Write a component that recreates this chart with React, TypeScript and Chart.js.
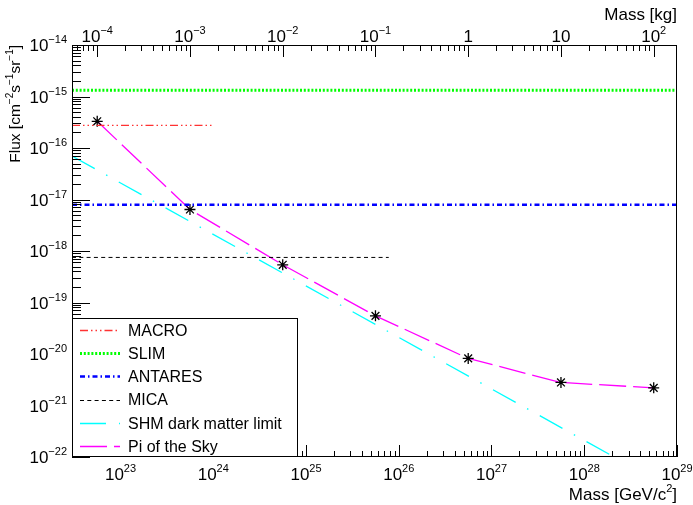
import React, { useEffect, useRef } from "react";
import { Chart, registerables } from "chart.js";

Chart.register(...registerables);

// ---- data ----
const GEV_TO_KG = 1.783e-27;
const X_MIN = 3e22;
const X_MAX = 1e29;
const Y_MIN = 1e-22;
const Y_MAX = 1e-14;

const piMass = [5.61e22, 5.61e23, 5.61e24, 5.61e25, 5.61e26, 5.61e27, 5.61e28];
const piFlux = [3.3e-16, 6.4e-18, 5.4e-19, 5.5e-20, 8.2e-21, 2.8e-21, 2.2e-21];

const shmMass = [3e22, 1e29];
const shmFlux = [7.0e-17, 2.1e-23];

const macroMass = [3e22, 1e24];
const macroFlux = [2.75e-16, 2.75e-16];

const slimMass = [3e22, 1e29];
const slimFlux = [1.32e-15, 1.32e-15];

const antaresMass = [3e22, 1e29];
const antaresFlux = [7.9e-18, 7.9e-18];

const micaMass = [3e22, 7.8e25];
const micaFlux = [7.5e-19, 7.5e-19];

const bottomTickExps = [23, 24, 25, 26, 27, 28, 29];
const leftTickExps = [-22, -21, -20, -19, -18, -17, -16, -15, -14];
const topTickValues = [1e-4, 1e-3, 1e-2, 1e-1, 1, 10, 100];
const topTickLabels: [string, string][] = [
  ["10", "\u22124"],
  ["10", "\u22123"],
  ["10", "\u22122"],
  ["10", "\u22121"],
  ["1", ""],
  ["10", ""],
  ["10", "2"],
];

const legendLabels = ["MACRO", "SLIM", "ANTARES", "MICA", "SHM dark matter limit", "Pi of the Sky"];

const FONT = '"Liberation Sans", Arial, Helvetica, sans-serif';

function pts(xs: number[], ys: number[]) {
  return xs.map((x, i) => ({ x, y: ys[i] }));
}

function drawPow(ctx: CanvasRenderingContext2D, base: string, exp: string, x: number, baseY: number, align: "center" | "right") {
  ctx.font = `17px ${FONT}`;
  const wb = ctx.measureText(base).width;
  ctx.font = `11px ${FONT}`;
  const we = exp ? ctx.measureText(exp).width : 0;
  const total = wb + we;
  const x0 = align === "center" ? x - total / 2 : x - total;
  ctx.textAlign = "left";
  ctx.textBaseline = "alphabetic";
  ctx.font = `17px ${FONT}`;
  ctx.fillText(base, x0, baseY);
  if (exp) {
    ctx.font = `11px ${FONT}`;
    ctx.fillText(exp, x0 + wb, baseY - 8);
  }
}

function decadeValues(min: number, max: number) {
  const out: { v: number; major: boolean }[] = [];
  const e0 = Math.floor(Math.log10(min)) - 1;
  const e1 = Math.ceil(Math.log10(max)) + 1;
  for (let e = e0; e <= e1; e++) {
    for (let k = 1; k <= 9; k++) {
      const v = k * Math.pow(10, e);
      if (v >= min * 0.9999 && v <= max * 1.0001) out.push({ v, major: k === 1 });
    }
  }
  return out;
}

const rootPlugin = {
  id: "rootStyle",
  afterDatasetsDraw(chart: any) {
    const ctx: CanvasRenderingContext2D = chart.ctx;
    const { left, right, top, bottom } = chart.chartArea;
    const xs = chart.scales.x;
    const ys = chart.scales.y;
    const x2 = chart.scales.x2;
    ctx.save();
    ctx.strokeStyle = "#000";
    ctx.fillStyle = "#000";
    ctx.lineWidth = 1;
    ctx.setLineDash([]);
    // frame
    ctx.strokeRect(left + 0.5, top + 0.5, right - left - 1, bottom - top - 1);

    // bottom ticks
    ctx.beginPath();
    for (const t of decadeValues(X_MIN, X_MAX)) {
      const px = Math.round(xs.getPixelForValue(t.v)) + 0.5;
      ctx.moveTo(px, bottom);
      ctx.lineTo(px, bottom - (t.major ? 12 : 6));
    }
    // top ticks (kg)
    for (const t of decadeValues(X_MIN * GEV_TO_KG, X_MAX * GEV_TO_KG)) {
      const px = Math.round(x2.getPixelForValue(t.v)) + 0.5;
      ctx.moveTo(px, top);
      ctx.lineTo(px, top + (t.major ? 12 : 6));
    }
    // left ticks
    for (const t of decadeValues(Y_MIN, Y_MAX)) {
      const py = Math.round(ys.getPixelForValue(t.v)) + 0.5;
      ctx.moveTo(left, py);
      ctx.lineTo(left + (t.major ? 18 : 9), py);
    }
    ctx.stroke();

    // bottom labels
    for (const e of bottomTickExps) {
      const px = xs.getPixelForValue(Math.pow(10, e));
      drawPow(ctx, "10", String(e), px, bottom + 23, "center");
    }
    // top labels
    topTickValues.forEach((v, i) => {
      const px = x2.getPixelForValue(v);
      drawPow(ctx, topTickLabels[i][0], topTickLabels[i][1], px, top - 3, "center");
    });
    // left labels
    for (const e of leftTickExps) {
      const py = ys.getPixelForValue(Math.pow(10, e));
      drawPow(ctx, "10", "\u2212" + Math.abs(e), left - 5, py + 6.3, "right");
    }

    // axis titles
    ctx.font = `17px ${FONT}`;
    ctx.textAlign = "right";
    ctx.textBaseline = "alphabetic";
    ctx.fillText("Mass [kg]", right, 19.5);

    // bottom title with superscript
    ctx.font = `11px ${FONT}`;
    const w2 = ctx.measureText("2").width;
    ctx.font = `17px ${FONT}`;
    const wPre = ctx.measureText("Mass [GeV/c").width;
    const wPost = ctx.measureText("]").width;
    let bx = right - (wPre + w2 + wPost);
    ctx.textAlign = "left";
    ctx.fillText("Mass [GeV/c", bx, 500);
    bx += wPre;
    ctx.font = `11px ${FONT}`;
    ctx.fillText("2", bx, 492);
    bx += w2;
    ctx.font = `17px ${FONT}`;
    ctx.fillText("]", bx, 500);

    // y title rotated
    const segs: [string, boolean][] = [
      ["Flux [cm", false],
      ["\u22122", true],
      ["s", false],
      ["\u22121", true],
      ["sr", false],
      ["\u22121", true],
      ["]", false],
    ];
    const bigF = `15.5px ${FONT}`;
    const supF = `10px ${FONT}`;
    let total = 0;
    const widths = segs.map(([t, sup]) => {
      ctx.font = sup ? supF : bigF;
      const w = ctx.measureText(t).width;
      total += w;
      return w;
    });
    ctx.save();
    ctx.translate(20, top);
    ctx.rotate(-Math.PI / 2);
    let tx = -total;
    segs.forEach(([t, sup], i) => {
      ctx.font = sup ? supF : bigF;
      ctx.fillText(t, tx, sup ? -7 : 0);
      tx += widths[i];
    });
    ctx.restore();

    // legend
    const lx0 = left;
    const ly0 = 318;
    const lx1 = 298;
    const ly1 = bottom;
    ctx.fillStyle = "#fff";
    ctx.fillRect(lx0, ly0, lx1 - lx0, ly1 - ly0);
    ctx.strokeStyle = "#000";
    ctx.lineWidth = 1;
    ctx.setLineDash([]);
    ctx.strokeRect(lx0 + 0.5, ly0 + 0.5, lx1 - lx0 - 1, ly1 - ly0 - 1);
    const ds = chart.data.datasets;
    legendLabels.forEach((lab, i) => {
      const d = ds[i];
      const ry = 330 + i * 23.2;
      ctx.save();
      ctx.strokeStyle = d.borderColor;
      ctx.lineWidth = d.borderWidth;
      ctx.setLineDash(d.borderDash || []);
      ctx.beginPath();
      ctx.moveTo(80, Math.round(ry) + 0.5);
      ctx.lineTo(120, Math.round(ry) + 0.5);
      ctx.stroke();
      ctx.restore();
      ctx.fillStyle = "#000";
      ctx.font = `16px ${FONT}`;
      ctx.textAlign = "left";
      ctx.textBaseline = "alphabetic";
      ctx.fillText(lab, 128, ry + 5.8);
    });
    ctx.restore();
  },
};

export default function App() {
  const ref = useRef<HTMLCanvasElement | null>(null);
  useEffect(() => {
    if (!ref.current) return;
    const line = (label: string, data: any[], color: string, width: number, dash: number[]) => ({
      label,
      data,
      showLine: true,
      borderColor: color,
      backgroundColor: color,
      borderWidth: width,
      borderDash: dash,
      pointRadius: 0,
      pointHoverRadius: 0,
      tension: 0,
      fill: false,
    });
    const chart = new Chart(ref.current, {
      type: "scatter",
      data: {
        datasets: [
          line("MACRO", pts(macroMass, macroFlux), "rgb(255,50,50)", 1.3, [8, 3, 1.5, 3, 1.5, 3, 1.5, 3]),
          line("SLIM", pts(slimMass, slimFlux), "#00ff00", 3, [2, 1.8]),
          line("ANTARES", pts(antaresMass, antaresFlux), "#0000ff", 2.5, [5, 3, 1.5, 3]),
          line("MICA", pts(micaMass, micaFlux), "#000000", 1, [4, 3.3]),
          line("SHM dark matter limit", pts(shmMass, shmFlux), "#00ffff", 1.3, [26, 13, 1.5, 13]),
          {
            ...line("Pi of the Sky", pts(piMass, piFlux), "#ff00ff", 1.3, [27, 7]),
            pointRadius: 5.5,
            pointStyle: "star",
            pointBorderColor: "#000",
            pointBackgroundColor: "#000",
            pointBorderWidth: 1.3,
          },
        ] as any,
      },
      options: {
        animation: false,
        responsive: false,
        devicePixelRatio: 1,
        layout: { padding: { left: 72, top: 45, right: 16, bottom: 48 } },
        plugins: { legend: { display: false }, tooltip: { enabled: false } },
        events: [],
        scales: {
          x: { type: "logarithmic", min: X_MIN, max: X_MAX, display: false },
          x2: { type: "logarithmic", min: X_MIN * GEV_TO_KG, max: X_MAX * GEV_TO_KG, display: false, position: "top" },
          y: { type: "logarithmic", min: Y_MIN, max: Y_MAX, display: false },
        },
      } as any,
      plugins: [rootPlugin],
    });
    return () => chart.destroy();
  }, []);
  return (
    <div style={{ position: "fixed", left: 0, top: 0, width: 693, height: 505, background: "#fff" }}>
      <canvas ref={ref} width={693} height={505} style={{ width: 693, height: 505, display: "block" }} />
    </div>
  );
}
